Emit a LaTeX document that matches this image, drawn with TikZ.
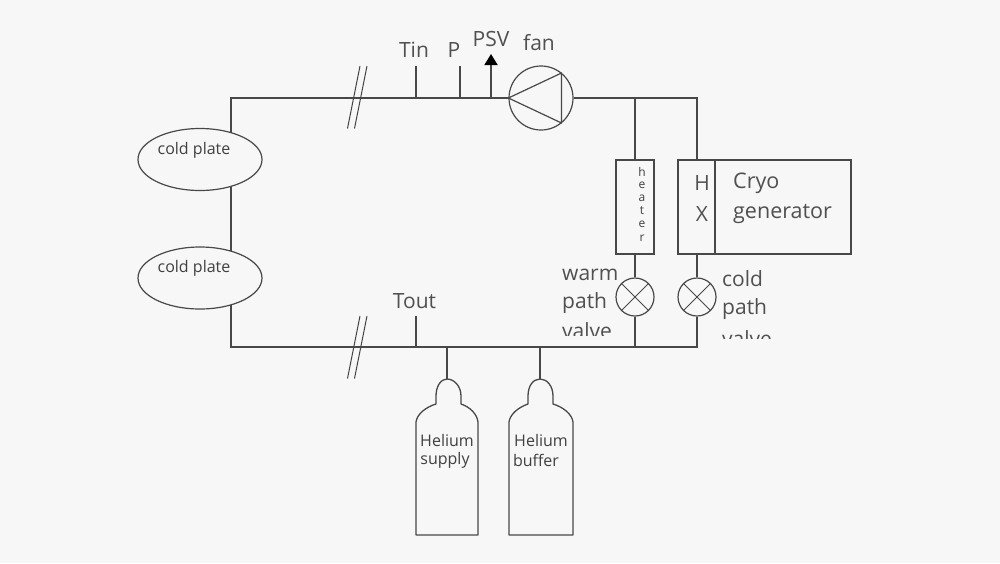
\documentclass[tikz,border=0pt]{standalone}
\usepackage{fontspec}
\setmainfont{Open Sans}
\usetikzlibrary{shapes.geometric,arrows.meta}
\definecolor{bgc}{HTML}{F7F7F7}
\definecolor{ln}{HTML}{484848}
\definecolor{tx}{HTML}{505050}
\definecolor{txs}{HTML}{404040}
\tikzset{
  pipe/.style={draw=ln,line width=1.3pt},
  thin pipe/.style={draw=ln,line width=1pt},
  plate/.style={ellipse,draw=ln,line width=1.2pt,fill=bgc,minimum width=124pt,minimum height=62pt,inner sep=0pt},
  boxn/.style={rectangle,draw=ln,line width=1.3pt,inner sep=0pt},
  roundn/.style={circle,draw=ln,line width=1.2pt,inner sep=0pt},
  lab/.style={text=tx,font=\fontsize{21}{24}\selectfont,inner sep=0pt,anchor=center},
  labb/.style={text=tx,font=\fontsize{21.5}{30}\selectfont,inner sep=0pt,anchor=west},
  small/.style={text=txs,font=\fontsize{16}{20}\selectfont,inner sep=0pt,anchor=center},
}
\begin{document}
\begin{tikzpicture}[x=1pt,y=-1pt]
\useasboundingbox (0,0) rectangle (1000,563);
\fill[bgc] (0,0) rectangle (1000,563);
% loop corners
\coordinate (tl) at (231,98);
\coordinate (bl) at (231,347);
\coordinate (tr) at (697,98);
\coordinate (br) at (697,347);
\coordinate (tw) at (635,98);
\coordinate (bw) at (635,347);
% components
\node[roundn,minimum size=64pt] (fan) at (541,98) {};
\draw[line width=1.2pt,draw=ln,line join=round] (fan.west) -- (561.5,73) -- (561.5,123) -- cycle;
\node[boxn,minimum width=38pt,minimum height=94pt] (heater) at (635,207) {};
\node[boxn,minimum width=37pt,minimum height=94pt] (hx) at (696.5,207) {};
\node[boxn,minimum width=136pt,minimum height=94pt] (cryo) at (783,207) {};
\node[roundn,minimum size=38pt] (vw) at (635,297) {};
\node[roundn,minimum size=38pt] (vc) at (697,297) {};
\draw[line width=1pt,draw=ln] (vw.45) -- (vw.225) (vw.135) -- (vw.315);
\draw[line width=1pt,draw=ln] (vc.45) -- (vc.225) (vc.135) -- (vc.315);
% pipes
\draw[pipe] (fan.west) -- (tl) -- (bl) -- (br) -- (vc.south);
\draw[pipe] (fan.east) -- (tr) -- (tr |- hx.north);
\draw[pipe] (tw) -- (heater.north);
\draw[pipe] (heater.south) -- (vw.north);
\draw[pipe] (hx.south -| vc) -- (vc.north);
\draw[pipe] (vw.south) -- (bw);
% cold plates
\node[plate] (cp1) at (200,159.5) {};
\node[plate] (cp2) at (200,278) {};
\node[small] at (194,150) {cold plate};
\node[small] at (194,268.5) {cold plate};
% breaks
\coordinate (b1a) at (347.5,128.5); \coordinate (b1b) at (360,66);
\coordinate (b2a) at (354.5,128.5); \coordinate (b2b) at (367,66);
\coordinate (b3a) at (347.5,378.5); \coordinate (b3b) at (360,316);
\coordinate (b4a) at (354.5,378.5); \coordinate (b4b) at (367,316);
\draw[thin pipe] (b1a) -- (b1b) (b2a) -- (b2b) (b3a) -- (b3b) (b4a) -- (b4b);
% sensors
\coordinate (tin) at (416,66); \coordinate (p) at (460,66);
\coordinate (tout) at (416,316);
\draw[pipe] (tin) -- (tin |- tl);
\draw[pipe] (p) -- (p |- tl);
\draw[pipe] (tout) -- (tout |- bl);
\coordinate (psv) at (491,54);
\draw[draw=ln,line width=1.6pt,-{Triangle[length=11pt,width=13pt,color=black]}] (491,98) -- (psv);
% bottles
\coordinate (s1) at (447,379); \coordinate (s2) at (540,379);
\draw[pipe] (s1) -- (s1 |- bl);
\draw[pipe] (s2) -- (s2 |- bl);
\draw[pipe,line join=round] (s1) .. controls (454,379) and (461,386) .. (461,396) -- (461,404)
  .. controls (470,407) and (477,414) .. (478,422) -- (478,535) -- (416,535) -- (416,422)
  .. controls (417,414) and (426,407) .. (436,404) -- (436,396) .. controls (436,386) and (441,379) .. (s1);
\draw[pipe,line join=round] (s2) .. controls (547,379) and (553,386) .. (553,396) -- (553,404)
  .. controls (563,407) and (572,414) .. (573,422) -- (573,535) -- (509,535) -- (509,422)
  .. controls (510,414) and (519,407) .. (528,404) -- (528,396) .. controls (528,386) and (533,379) .. (s2);
% labels
\node[lab] (ltin) at (414,50) {Tin};
\node[lab] (lp) at (454,50) {P};
\node[lab] (lpsv) at (491,39) {PSV};
\node[lab] (lfan) at (539,43) {fan};
\node[lab] (ltout) at (414.5,301) {Tout};
\node[labb] at (733,183) {Cryo};
\node[labb] at (733,214) {generator};
\node[lab] at (702,183) {H};
\node[lab] at (702,214) {X};
\foreach \c/\yy in {h/172,e/185,a/198,t/211,e/224,r/238}{
  \node[small,font=\fontsize{12}{14}\selectfont] at (642,\yy) {\c};
}
\begin{scope}
\clip (555,260) rectangle (625,335.5);
\node[lab,anchor=west] at (562,275) {warm};
\node[lab,anchor=west] at (562,303) {path};
\node[lab,anchor=west] at (562,331) {valve};
\end{scope}
\begin{scope}
\clip (718,260) rectangle (785,338.5);
\node[lab,anchor=west] at (722,279) {cold};
\node[lab,anchor=west] at (722,309) {path};
\node[lab,anchor=west] at (722,339) {valve};
\end{scope}
\node[small] at (447,440) {Helium};
\node[small] at (445,460) {supply};
\node[small] at (541,440) {Helium};
\node[small] at (536,460) {buffer};
\end{tikzpicture}
\end{document}
